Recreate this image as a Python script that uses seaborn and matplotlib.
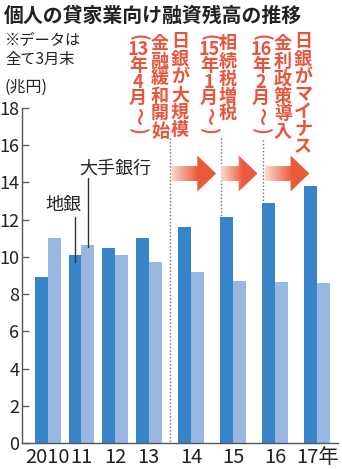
import numpy as np
import pandas as pd
import matplotlib
matplotlib.use('Agg')
import matplotlib.pyplot as plt
import seaborn as sns
from matplotlib import font_manager
from matplotlib.patches import Polygon
from matplotlib.colors import LinearSegmentedColormap

# ---------------- data ----------------
years = ['2010', '11', '12', '13', '14', '15', '16', '17年']
chigin = [8.9, 10.1, 10.5, 11.0, 11.6, 12.15, 12.9, 13.8]      # 地銀
ote = [11.0, 10.65, 10.1, 9.7, 9.2, 8.7, 8.65, 8.6]            # 大手銀行
series_names = ['地銀', '大手銀行']
yticks = [0, 2, 4, 6, 8, 10, 12, 14, 16, 18]

title = '個人の貸家業向け融資残高の推移'
note_lines = ['※データは', '全て3月末']
unit = '(兆円)'
events = [
    [['(', '13', '年', '4', '月', '〜', ')'], list('金融緩和開始'), list('日銀が大規模')],
    [['(', '15', '年', '1', '月', '〜', ')'], list('相続税増税')],
    [['(', '16', '年', '2', '月', '〜', ')'], list('金利政策導入'), list('日銀がマイナス')],
]

# ---------------- style ----------------
sns.set_style('ticks')
avail = {f.name for f in font_manager.fontManager.ttflist}
CJK = 'Noto Sans CJK JP'
NUM = 'Liberation Sans Narrow' if 'Liberation Sans Narrow' in avail else CJK
plt.rcParams['font.family'] = [CJK, 'DejaVu Sans']

DARK = '#3784C8'
LIGHT = '#98B8E2'
RED = '#E8553D'
TXT = '#222222'

W, H = 342, 469
def px(x, y):
    return x / W, 1 - y / H

# x positions: spacing widens after 2013
pos = [i if i <= 3 else 3 + (i - 3) * 1.25 for i in range(len(years))]
df = pd.DataFrame({
    'pos': pos * 2,
    'value': chigin + ote,
    'bank': [series_names[0]] * len(years) + [series_names[1]] * len(years),
})

fig = plt.figure(figsize=(W / 100, H / 100), dpi=100)
ax = fig.add_axes([22 / W, 26 / H, 316 / W, 335 / H])
bw = 0.755
sns.barplot(data=df, x='pos', y='value', hue='bank', hue_order=series_names,
            palette=[DARK, LIGHT], saturation=1, native_scale=True, width=bw, linewidth=0,
            legend=False, errorbar=None, ax=ax, zorder=2)

# axes styling
for s in ['top', 'right']:
    ax.spines[s].set_visible(False)
for s in ['left', 'bottom']:
    ax.spines[s].set_color('#555555')
    ax.spines[s].set_linewidth(1.0)
ax.set_yticks(yticks)
ax.set_yticklabels([str(v) for v in yticks], family=[NUM, CJK], fontsize=13, color=TXT)
ax.set_xticks(pos)
ax.set_xticklabels(years, family=[NUM, CJK], fontsize=14.5, color=TXT)
ax.tick_params(axis='y', direction='in', length=5, width=1, color='#666666', pad=2)
ax.tick_params(axis='x', length=0, pad=3)
ax.set_xlabel('')
ax.set_ylabel('')

# event dotted lines
ev_x = [3.62, 5.13, 6.39]
dot = dict(color='#707070', lw=1, ls=(0, (1, 1.5)), zorder=1)
ax.plot([ev_x[0]] * 2, [16.4, 0], **dot)
ax.plot([ev_x[1]] * 2, [16.4, chigin[5]], **dot)
ax.plot([ev_x[2]] * 2, [16.3, chigin[6]], **dot)

# gradient arrows
cmap = LinearSegmentedColormap.from_list('arr', [(0, '#FBDCCF'), (0.6, '#EA5A3C'), (1, '#EA5A3C')])
grad = np.linspace(0, 1, 256).reshape(1, -1)
yc, sh, hh, hl = 14.48, 0.4, 0.97, 0.56
for x0, x1 in [(3.67, 5.0), (5.15, 6.23), (6.44, 7.77)]:
    verts = [(x0, yc - sh), (x1 - hl, yc - sh), (x1 - hl, yc - hh), (x1, yc),
             (x1 - hl, yc + hh), (x1 - hl, yc + sh), (x0, yc + sh)]
    poly = Polygon(verts, closed=True, facecolor='none', edgecolor='none')
    ax.add_patch(poly)
    im = ax.imshow(grad, extent=[x0, x1, yc - hh, yc + hh], cmap=cmap, aspect='auto',
                   origin='lower', zorder=3, interpolation='bilinear')
    im.set_clip_path(poly)

# series labels with leader lines
off = bw / 4
ax.plot([pos[1] - off] * 2, [12.14, 9.73], color='#333333', lw=1, zorder=4)
ax.plot([pos[1] + off] * 2, [14.24, 10.53], color='#333333', lw=1, zorder=4)
ax.text(0.45, 12.79, series_names[0], ha='center', va='center', fontsize=13, color=TXT)
ax.text(2.0, 14.72, series_names[1], ha='center', va='center', fontsize=13, color=TXT)

ax.set_xlim(-0.767, 8.62)
ax.set_ylim(0, 18)

# header texts
fig.text(*px(4, 15), title, fontsize=14.3, fontweight='bold', ha='left', va='center', color=TXT)
fig.text(*px(5, 40), note_lines[0], fontsize=11, ha='left', va='center', color=TXT)
fig.text(*px(5, 59.5), note_lines[1], fontsize=11, ha='left', va='center', color=TXT)
fig.text(*px(5, 87), unit, fontsize=11.5, ha='left', va='center', color=TXT)

# vertical red annotations
def vcol(xc, ytop, tokens):
    y = ytop
    for tok in tokens:
        if tok in '()':
            h, rot = 10, -90
        elif tok == '〜':
            h, rot = 18, -90
        elif tok.isdigit():
            h, rot = 15, 0
        else:
            h, rot = 17.5, 0
        fig.text(*px(xc, y + h / 2), tok, ha='center', va='center', rotation=rot,
                 fontsize=13, fontweight='bold', color=RED, family=[CJK, 'DejaVu Sans'])
        y += h

col_x = [[138, 160, 180], [209, 228], [261, 283, 303]]
col_top = [[32, 35, 33], [32, 35], [32, 35, 33]]
for grp, xs, tops in zip(events, col_x, col_top):
    for toks, xc, yt in zip(grp, xs, tops):
        vcol(xc, yt, toks)

fig.savefig('out.png', dpi=100)
